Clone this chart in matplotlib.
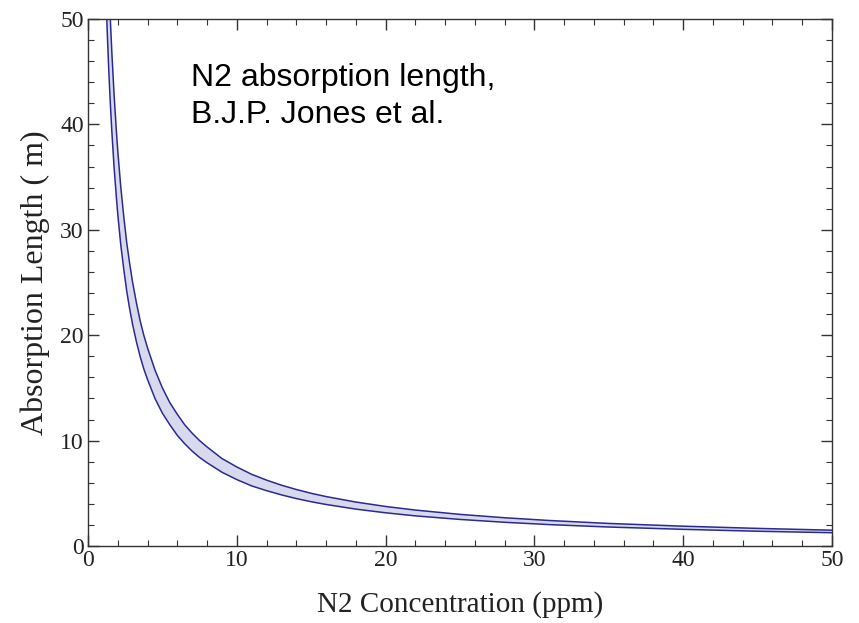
import matplotlib
matplotlib.use("Agg")
import matplotlib.pyplot as plt
from matplotlib.ticker import MultipleLocator

# N2 concentration (ppm)
conc = [1.2, 1.25, 1.3, 1.4, 1.5, 1.6, 1.75, 1.9, 2.0, 2.2, 2.4, 2.6, 2.8, 3.0,
        3.25, 3.5, 3.75, 4.0, 4.5, 5.0, 5.5, 6.0, 6.5, 7.0, 7.5, 8.0, 9.0, 10.0,
        11.0, 12.0, 13.0, 14.0, 15.0, 16.0, 18.0, 20.0, 22.0, 25.0, 28.0, 31.0,
        35.0, 40.0, 45.0, 50.0]
# upper and lower bounds of the absorption length (m)
length_upper = [62.5, 60.0, 57.7, 53.6, 50.0, 46.9, 42.9, 39.5, 37.5, 34.1, 31.3,
                28.8, 26.8, 25.0, 23.1, 21.4, 20.0, 18.8, 16.7, 15.0, 13.6, 12.5,
                11.5, 10.7, 10.0, 9.4, 8.3, 7.5, 6.8, 6.25, 5.77, 5.36, 5.0, 4.69,
                4.17, 3.75, 3.41, 3.0, 2.68, 2.42, 2.14, 1.88, 1.67, 1.5]
length_lower = [52.5, 50.4, 48.5, 45.0, 42.0, 39.4, 36.0, 33.2, 31.5, 28.6, 26.3,
                24.2, 22.5, 21.0, 19.4, 18.0, 16.8, 15.8, 14.0, 12.6, 11.5, 10.5,
                9.7, 9.0, 8.4, 7.9, 7.0, 6.3, 5.7, 5.25, 4.85, 4.5, 4.2, 3.94,
                3.5, 3.15, 2.86, 2.52, 2.25, 2.03, 1.8, 1.58, 1.4, 1.26]

x_ticks = [0, 10, 20, 30, 40, 50]
y_ticks = [0, 10, 20, 30, 40, 50]

fig = plt.figure(figsize=(8.59, 6.23), dpi=100)
ax = fig.add_axes([88 / 859, 1 - 546 / 623, (832 - 88) / 859, (546 - 19) / 623])

line_col = "#2a2a92"
fill_col = "#d9d9ee"

ax.fill_between(conc, length_lower, length_upper, color=fill_col, lw=0)
ax.plot(conc, length_upper, color=line_col, lw=1.1, solid_joinstyle="round")
ax.plot(conc, length_lower, color=line_col, lw=1.1, solid_joinstyle="round")

ax.set_xlim(0, 50)
ax.set_ylim(0, 50)
ax.set_xticks(x_ticks)
ax.set_yticks(y_ticks)
ax.xaxis.set_minor_locator(MultipleLocator(2))
ax.yaxis.set_minor_locator(MultipleLocator(2))

serif = "Liberation Serif"
ax.tick_params(which="both", direction="in", top=True, right=True, colors="#333333",
               labelcolor="#222222")
ax.tick_params(which="major", length=8, width=1.0, pad=3, labelsize=17)
ax.tick_params(which="minor", length=4, width=0.8)
for lab in ax.get_xticklabels() + ax.get_yticklabels():
    lab.set_fontfamily(serif)
for sp in ax.spines.values():
    sp.set_color("#333333")
    sp.set_linewidth(1.0)

ax.set_xlabel("N2 Concentration (ppm)", fontfamily=serif, fontsize=21, color="#222222",
              labelpad=14)
ax.set_ylabel("Absorption Length ( m)", fontfamily=serif, fontsize=23, color="#222222",
              labelpad=7)

fig.text(191 / 859, 1 - 63 / 623, "N2 absorption length,\nB.J.P. Jones et al.",
         fontfamily="Liberation Sans", fontsize=23, va="top", ha="left",
         linespacing=1.3, color="black")

fig.savefig("out.png", dpi=100)
